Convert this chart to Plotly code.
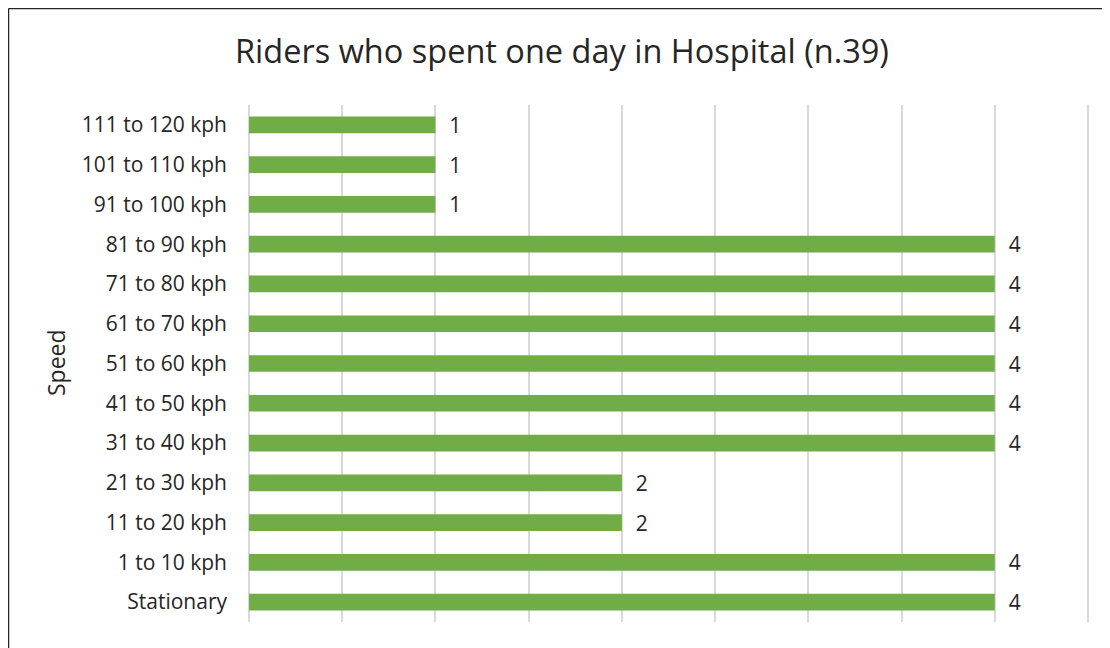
import plotly.graph_objects as go

categories = ["Stationary", "1 to 10 kph", "11 to 20 kph", "21 to 30 kph", "31 to 40 kph",
              "41 to 50 kph", "51 to 60 kph", "61 to 70 kph", "71 to 80 kph", "81 to 90 kph",
              "91 to 100 kph", "101 to 110 kph", "111 to 120 kph"]
riders = [4, 4, 2, 2, 4, 4, 4, 4, 4, 4, 1, 1, 1]

# page has an 8px body margin, so the figure is drawn shifted by 8px
W, H = 1102, 640
L, R, T, B = 239, 20, 97, 26
pw, ph = W - L - R, H - T - B
unit = 839 / 4.5          # px per rider (0 at fig x 241, 4.5 at fig x 1080)
x_lo = -(241 - L) / unit
x_hi = 4.5 + (W - R - 1080) / unit

FONT = "Open Sans"
TXT = "#262626"

fig = go.Figure(go.Bar(
    y=categories, x=riders, orientation="h",
    marker=dict(color="#70AD47", line=dict(width=0)),
    width=0.42,
    text=["  " + str(v) for v in riders],
    textposition="outside",
    constraintext="none",
    textfont=dict(family=FONT, size=21, color=TXT),
    cliponaxis=False,
))

def px_x(p):
    return (p - L) / pw

def px_y(p):
    return (H - B - p) / ph

fig.update_layout(
    width=W, height=H,
    margin=dict(l=L, r=R, t=T, b=B),
    paper_bgcolor="white", plot_bgcolor="white",
    title=dict(text="Riders who spent one day in Hospital (n.39)",
               x=554 / W, xanchor="center", y=1 - 44 / H, yanchor="middle",
               font=dict(family=FONT, size=32.5, color=TXT)),
    xaxis=dict(range=[x_lo, x_hi], dtick=0.5, tick0=0, showticklabels=False,
               showgrid=True, gridcolor="#D9D9D9", gridwidth=1.5,
               zeroline=False, showline=False, ticks=""),
    yaxis=dict(categoryorder="array", categoryarray=categories,
               tickfont=dict(family=FONT, size=21, color=TXT),
               ticklabelstandoff=19, ticks="", showgrid=False, zeroline=False),
    annotations=[dict(text="Speed", textangle=-90, xref="paper", yref="paper",
                      x=px_x(48), y=px_y(355), xanchor="center", yanchor="middle",
                      showarrow=False, font=dict(family=FONT, size=23, color=TXT))],
    showlegend=False,
    shapes=[
        dict(type="line", xref="paper", yref="paper",
             x0=px_x(0.5), x1=px_x(0.5), y0=px_y(H + 5), y1=px_y(0.5),
             line=dict(color="#262626", width=1.5)),
        dict(type="line", xref="paper", yref="paper",
             x0=px_x(0.5), x1=px_x(W + 5), y0=px_y(0.5), y1=px_y(0.5),
             line=dict(color="#262626", width=1.5)),
    ],
)

fig.write_html("out.html")
